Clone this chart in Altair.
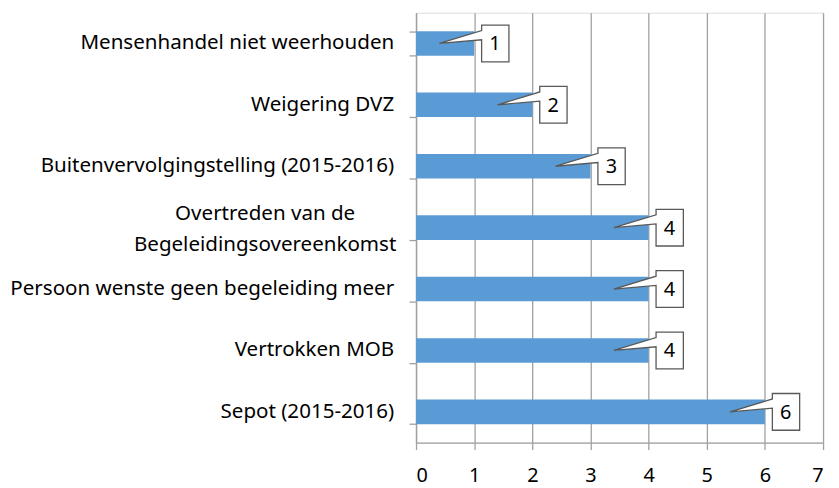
import altair as alt
import pandas as pd

categories = [
    "Mensenhandel niet weerhouden",
    "Weigering DVZ",
    "Buitenvervolgingstelling (2015-2016)",
    "Overtreden van de Begeleidingsovereenkomst",
    "Persoon wenste geen begeleiding meer",
    "Vertrokken MOB",
    "Sepot (2015-2016)",
]
labels = [
    "Mensenhandel niet weerhouden",
    "Weigering DVZ",
    "Buitenvervolgingstelling (2015-2016)",
    "Overtreden van de\nBegeleidingsovereenkomst",
    "Persoon wenste geen begeleiding meer",
    "Vertrokken MOB",
    "Sepot (2015-2016)",
]
values = [1, 2, 3, 4, 4, 4, 6]
x_ticks = [0, 1, 2, 3, 4, 5, 6, 7]

df = pd.DataFrame({"cat": categories, "label": labels, "value": values})
df["lines"] = df["label"].str.count("\n") + 1

FONT = "Noto Sans"
GRID = "#a0a0a0"
LABEL_SIZE = 20.7

y_scale = alt.Scale(paddingInner=0.6, paddingOuter=0.3)
x_scale = alt.Scale(domain=[0, 7], nice=False)

bars = alt.Chart(df).mark_bar(color="#5B9BD5").encode(
    x=alt.X(
        "value:Q",
        scale=x_scale,
        axis=alt.Axis(
            title=None,
            values=x_ticks,
            format="d",
            grid=True,
            gridColor=GRID,
            gridWidth=1.3,
            tickSize=7,
            tickColor=GRID,
            tickWidth=1.3,
            domainColor=GRID,
            domainWidth=1.3,
            labelFont=FONT,
            labelFontSize=20,
            labelColor="#000000",
            labelPadding=16,
        ),
    ),
    y=alt.Y(
        "cat:N",
        sort=categories,
        scale=y_scale,
        axis=alt.Axis(
            title=None,
            labels=False,
            tickBand="extent",
            tickSize=7,
            tickColor=GRID,
            tickWidth=1.3,
            domainColor=GRID,
            domainWidth=1.3,
            grid=False,
        ),
    ),
)

ylab_single = alt.Chart(df).transform_filter("datum.lines == 1").mark_text(
    font=FONT, fontSize=LABEL_SIZE, color="#000000", align="right", baseline="middle"
).encode(
    x=alt.value(-22),
    y=alt.Y("cat:N", sort=categories, scale=y_scale),
    text="label:N",
)

ylab_multi = alt.Chart(df).transform_filter("datum.lines > 1").mark_text(
    font=FONT, fontSize=LABEL_SIZE, color="#000000", align="center", baseline="middle",
    lineBreak="\n", lineHeight=32, dy=-14,
).encode(
    x=alt.value(-152),
    y=alt.Y("cat:N", sort=categories, scale=y_scale),
    text="label:N",
)

callout_path = (
    "M 0.15 -0.37 L 0.7 -0.37 L 0.7 0.37 L 0.15 0.37 L 0.15 -0.074 "
    "L -0.7 0 L 0.15 -0.26 Z"
)

callouts = alt.Chart(df).mark_point(
    shape=callout_path,
    size=10000,
    filled=True,
    fill="white",
    stroke="#595959",
    strokeWidth=1.3,
    opacity=1,
).encode(
    x=alt.X("value:Q", scale=x_scale),
    y=alt.Y("cat:N", sort=categories, scale=y_scale),
)

texts = alt.Chart(df).mark_text(
    font=FONT, fontSize=20, color="#000000", dx=21, dy=1, align="center", baseline="middle"
).encode(
    x=alt.X("value:Q", scale=x_scale),
    y=alt.Y("cat:N", sort=categories, scale=y_scale),
    text="value:Q",
)

chart = (
    alt.layer(bars, ylab_single, ylab_multi, callouts, texts)
    .properties(
        width=410,
        height=433,
        autosize=alt.AutoSizeParams(type="none"),
        padding={"top": 3, "left": 411, "right": 8, "bottom": 44},
    )
    .configure_view(stroke=None)
    .configure(background="white")
)

chart.save("out.html", embed_options={"renderer": "svg", "actions": False})
